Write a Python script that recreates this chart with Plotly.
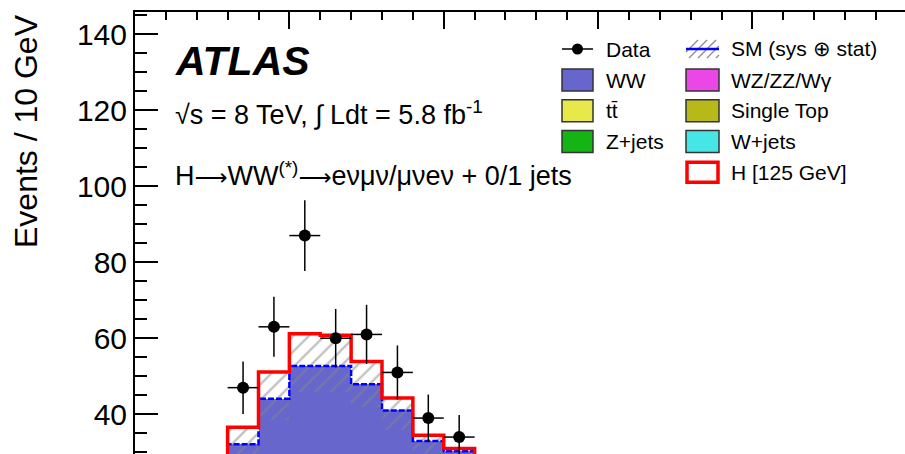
import plotly.graph_objects as go

# ---------------- data ----------------
bin_left = [80, 90, 100, 110, 120, 130, 140, 150]          # GeV, 10 GeV bins
sm_background = [32.1, 44.1, 52.7, 52.7, 47.9, 41.0, 33.0, 30.3]   # WW + other bkgs (stacked total)
higgs_signal = [4.5, 7.0, 8.5, 8.1, 6.0, 3.3, 1.5, 0.7]            # H [125 GeV] stacked on top
band_low = [28.0, 38.5, 45.9, 45.9, 42.0, 35.8, 29.8, 27.5]        # SM (sys+stat) band
band_high = [36.3, 50.8, 60.9, 60.5, 53.6, 44.0, 34.2, 30.7]
data_vals = [47, 63, 87, 60, 61, 51, 39, 34]
data_err = [6.9, 7.9, 9.3, 7.7, 7.8, 7.1, 6.2, 5.8]

bin_width = 10
x_range = [50, 299.4]
y_range = [29.55, 145.8]

# ---------------- colours ----------------
C_WW = "#6666CC"
C_TT = "#E8E84A"
C_Z = "#14B414"
C_WZ = "#EB46E6"
C_ST = "#B8B818"
C_WJ = "#46E6E6"
C_H = "#FF0000"
C_SM = "#0000FF"
FONT = "Liberation Sans, Arial, Helvetica, sans-serif"
ARROW = "<span style='font-family:DejaVu Sans;font-size:23px'>⟶</span>"

centers = [b + bin_width / 2 for b in bin_left]
total = [b + h for b, h in zip(sm_background, higgs_signal)]


def step_xy(values):
    xs = [bin_left[0], bin_left[0]] + bin_left[1:] + [bin_left[-1] + bin_width, bin_left[-1] + bin_width]
    ys = [0, values[0]] + values[1:] + [values[-1], 0]
    return xs, ys


fig = go.Figure()

# WW (top of background stack) fill
fig.add_trace(go.Bar(x=centers, y=sm_background, width=bin_width,
                     marker=dict(color=C_WW, line=dict(width=0)), showlegend=False))
# hatched SM uncertainty band
fig.add_trace(go.Bar(x=centers, y=[h - l for h, l in zip(band_high, band_low)], base=band_low,
                     width=bin_width,
                     marker=dict(color="rgba(0,0,0,0)", line=dict(width=0),
                                 pattern=dict(shape="/", fgcolor="#858585", size=11, solidity=0.22)),
                     showlegend=False))
# SM background line (dashed blue)
sx, sy = step_xy(sm_background)
fig.add_trace(go.Scatter(x=sx, y=sy, mode="lines", line=dict(color=C_SM, width=2.5, dash="6px,2px"),
                         line_shape="hv", showlegend=False))
# Higgs stacked outline
tx, ty = step_xy(total)
fig.add_trace(go.Scatter(x=tx, y=ty, mode="lines", line=dict(color=C_H, width=3.5),
                         line_shape="hv", showlegend=False))
# data
fig.add_trace(go.Scatter(x=centers, y=data_vals, mode="markers",
                         marker=dict(color="black", size=12),
                         error_y=dict(type="data", array=data_err, color="black", thickness=1.5, width=0),
                         error_x=dict(type="constant", value=bin_width / 2, color="black", thickness=1.5, width=0),
                         showlegend=False))

W, H, L, T = 905, 454, 135, 12


def px(xp):
    return (xp - L) / (W - L)


def py(yp):
    return (H - yp) / (H - T)


shapes = []
annotations = []


def text(xp, yp, s, size, **kw):
    annotations.append(dict(x=px(xp), y=py(yp), xref="paper", yref="paper", text=s, showarrow=False,
                            xanchor=kw.pop("xanchor", "left"), yanchor=kw.pop("yanchor", "middle"),
                            font=dict(family=FONT, size=size, color="black"), **kw))


def box(x0, x1, yc, fill, line_color="#333333", lw=1.5, h=22):
    shapes.append(dict(type="rect", xref="paper", yref="paper", x0=px(x0), x1=px(x1),
                       y0=py(yc + h / 2), y1=py(yc - h / 2), fillcolor=fill,
                       line=dict(color=line_color, width=lw)))


# y title
text(26, 131, "Events / 10 GeV", 32, xanchor="center", textangle=-90)
# ATLAS labels
text(173, 61, "<b><i>ATLAS</i></b>", 41)
text(173, 113, "√s = 8 TeV, ∫ Ldt = 5.8 fb<sup>-1</sup>", 27)
text(173, 174, "H" + ARROW + "WW<sup>(*)</sup>" + ARROW + "eνμν/μνeν + 0/1 jets", 27)

# legend column 1
c1x0, c1x1, c1t = 562, 593, 604
c2x0, c2x1, c2t = 686, 719, 729
rows = [49, 80, 110.7, 141.5, 172.2]
LF = 21
shapes.append(dict(type="line", xref="paper", yref="paper", x0=px(c1x0), x1=px(c1x1),
                   y0=py(rows[0]), y1=py(rows[0]), line=dict(color="black", width=1.5)))
shapes.append(dict(type="circle", xref="paper", yref="paper", x0=px(577.5 - 5.5), x1=px(577.5 + 5.5),
                   y0=py(rows[0] + 5.5), y1=py(rows[0] - 5.5), fillcolor="black", line=dict(width=0)))
text(c1t, rows[0], "Data", LF)
box(c1x0, c1x1, rows[1], C_WW)
text(c1t, rows[1], "WW", LF)
box(c1x0, c1x1, rows[2], C_TT)
text(c1t, rows[2], "tt\u0304", LF)
box(c1x0, c1x1, rows[3], C_Z)
text(c1t, rows[3], "Z+jets", LF)

# legend column 2
for k in range(5):
    xa = c2x0 - 6 + k * 9
    shapes.append(dict(type="line", xref="paper", yref="paper", x0=px(max(xa, c2x0)),
                       y0=py(rows[0] + 9 - (max(xa, c2x0) - xa)), x1=px(min(xa + 18, c2x1)),
                       y1=py(rows[0] + 9 - (min(xa + 18, c2x1) - xa)),
                       line=dict(color="#8c8c8c", width=1.2)))
shapes.append(dict(type="line", xref="paper", yref="paper", x0=px(c2x0), x1=px(c2x1),
                   y0=py(rows[0]), y1=py(rows[0]), line=dict(color=C_SM, width=2.5)))
text(c2t, rows[0] - 1, "SM (sys ⊕ stat)", LF)
box(c2x0, c2x1, rows[1], C_WZ)
text(c2t, rows[1], "WZ/ZZ/Wγ", LF)
box(c2x0, c2x1, rows[2], C_ST)
text(c2t, rows[2], "Single Top", LF)
box(c2x0, c2x1, rows[3], C_WJ)
text(c2t, rows[3], "W+jets", LF)
box(c2x0 + 1, c2x1 - 1, rows[4], "white", line_color=C_H, lw=3.5, h=20)
text(c2t, rows[4], "H [125 GeV]", LF)

tick_common = dict(ticks="inside", tickcolor="black", tickwidth=1.5, showgrid=False, zeroline=False,
                   automargin=False)
fig.update_layout(
    width=W, height=H,
    margin=dict(l=L, r=0, t=T, b=0, pad=0, autoexpand=False),
    paper_bgcolor="white", plot_bgcolor="white",
    barmode="overlay", bargap=0,
    showlegend=False,
    font=dict(family=FONT, color="black"),
    xaxis=dict(range=x_range, side="top", showline=True, linecolor="black", linewidth=2,
               ticklen=17, dtick=50, tick0=50, showticklabels=False,
               minor=dict(ticks="inside", ticklen=8, dtick=10, tick0=50, tickcolor="black", tickwidth=1.5,
                          showgrid=False),
               **tick_common),
    yaxis=dict(range=y_range, showline=True, linecolor="black", linewidth=2,
               ticklen=23, dtick=20, tick0=0,
               tickfont=dict(family=FONT, size=30, color="black"),
               minor=dict(ticks="inside", ticklen=12, dtick=5, tick0=0, tickcolor="black", tickwidth=1.5,
                          showgrid=False),
               **tick_common),
    yaxis2=dict(range=y_range, overlaying="y", side="right", showline=False,
                ticklen=23, dtick=20, tick0=0, showticklabels=False,
                minor=dict(ticks="inside", ticklen=12, dtick=5, tick0=0, tickcolor="black", tickwidth=1.5,
                           showgrid=False),
                **tick_common),
    shapes=shapes,
    annotations=annotations,
)

fig.write_html("out.html", config={"displayModeBar": False},
               post_script="document.body.style.margin='0';document.body.style.overflow='hidden';")
